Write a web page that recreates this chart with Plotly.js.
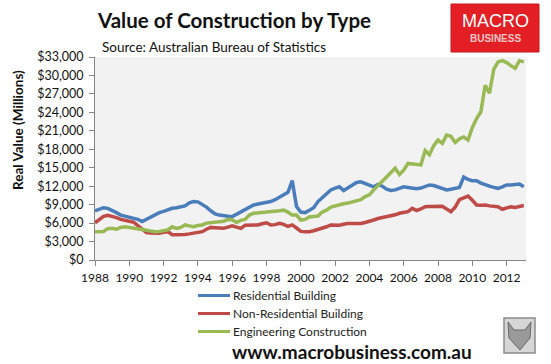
<!DOCTYPE html>
<html>
<head>
<meta charset="utf-8">
<script src="https://cdn.plot.ly/plotly-3.0.1.min.js"></script>
<style>html,body{margin:0;padding:0;background:#fff;}#chart{width:551px;height:364px;}</style>
</head>
<body>
<div id="chart"></div>
<script>
// Quarterly periods (decimal years)
var quarters = [
1988.00,1988.25,1988.50,1988.75,1989.00,1989.25,1989.50,1989.75,
1990.00,1990.25,1990.50,1990.75,1991.00,1991.25,1991.50,1991.75,
1992.00,1992.25,1992.50,1992.75,1993.00,1993.25,1993.50,1993.75,
1994.00,1994.25,1994.50,1994.75,1995.00,1995.25,1995.50,1995.75,
1996.00,1996.25,1996.50,1996.75,1997.00,1997.25,1997.50,1997.75,
1998.00,1998.25,1998.50,1998.75,1999.00,1999.25,1999.50,1999.75,
2000.00,2000.25,2000.50,2000.75,2001.00,2001.25,2001.50,2001.75,
2002.00,2002.25,2002.50,2002.75,2003.00,2003.25,2003.50,2003.75,
2004.00,2004.25,2004.50,2004.75,2005.00,2005.25,2005.50,2005.75,
2006.00,2006.25,2006.50,2006.75,2007.00,2007.25,2007.50,2007.75,
2008.00,2008.25,2008.50,2008.75,2009.00,2009.25,2009.50,2009.75,
2010.00,2010.25,2010.50,2010.75,2011.00,2011.25,2011.50,2011.75,
2012.00,2012.25,2012.50,2012.75,2013.00];

var residential = [
8000,8300,8500,8400,8100,7700,7300,7100,
6900,6800,6600,6250,6600,7000,7400,7700,
7900,8200,8400,8500,8700,8800,9300,9500,
9450,9100,8600,8000,7500,7300,7150,7100,
7050,7400,7800,8200,8600,8950,9100,9250,
9350,9500,9800,10200,10600,11000,12900,8700,
7800,7700,8100,8500,9500,10200,10850,11400,
11700,11900,11300,11700,12200,12600,12700,12400,
12100,11900,12300,12000,11500,11300,11400,11650,
11900,11800,11650,11600,11700,12000,12200,12100,
11900,11600,11400,11500,11700,11800,13500,13100,
12900,12900,12500,12200,12000,11800,11650,11900,
12200,12200,12250,12350,11900];

var nonResidential = [
6050,6600,7100,7250,7100,6900,6600,6450,
6300,6150,5600,5000,4450,4400,4350,4350,
4500,4600,4100,4100,4100,4150,4250,4400,
4500,4600,5000,5300,5250,5150,5150,5350,
5550,5350,5150,5650,5700,5650,5700,5900,
6050,5700,5750,5950,5800,5450,5700,5200,
4650,4600,4600,4750,4950,5150,5400,5700,
5700,5650,5800,5950,5950,5950,5950,6100,
6250,6500,6750,6900,7000,7100,7350,7600,
7700,7850,8400,8050,8300,8650,8700,8700,
8750,8750,8300,7850,8600,9800,10100,10400,
9700,8950,8900,8950,8800,8700,8650,8250,
8450,8650,8550,8750,8850];

var engineering = [
4600,4600,4650,5100,5150,5000,5300,5400,
5300,5200,5150,5000,4850,4700,4600,4650,
4800,4900,5400,5150,5300,5700,5550,5420,
5600,5700,6000,6100,6200,6250,6300,6600,
6550,6100,6450,6600,7300,7600,7650,7800,
7850,7900,7950,8000,8100,7800,7300,7300,
6500,6600,7000,7050,7150,7800,8100,8600,
8800,9050,9150,9250,9400,9600,9800,10300,
10600,11400,12200,12800,13500,14200,14900,13900,
14600,15700,15600,15500,15450,17800,17100,18600,
19500,18950,20300,20100,19100,19700,20000,19500,
21500,23000,24100,28400,27100,31000,32200,32400,
32100,31600,31150,32400,32200];

var seriesNames = ['Residential Building','Non-Residential Building','Engineering Construction'];
var xTickYears = [1988,1990,1992,1994,1996,1998,2000,2002,2004,2006,2008,2010,2012];
var yTickValues = [0,3000,6000,9000,12000,15000,18000,21000,24000,27000,30000,33000];

var colors = ['#4a7ebb','#be4b48','#98b954'];
var FONT = 'Lato, "Liberation Sans", sans-serif';

// plot-area pixel geometry helpers (layout only)
var L = 95, R = 526, T = 57, B = 260;
function px(x){ return (x - L) / (R - L); }
function py(y){ return (B - y) / (B - T); }

var traces = [residential, nonResidential, engineering].map(function(vals, i){
  return {
    x: quarters, y: vals, type: 'scatter', mode: 'lines',
    name: seriesNames[i],
    line: {color: colors[i], width: 3.5},
    hoverinfo: 'skip', showlegend: false
  };
});

// legend (drawn as key swatches + labels below the plot)
var legendRowsY = [295.5, 313.5, 331.5];
var legendShapes = [], legendNotes = [];
seriesNames.forEach(function(name, i){
  legendShapes.push({type: 'line', xref: 'paper', yref: 'paper',
    x0: px(198), x1: px(230), y0: py(legendRowsY[i]), y1: py(legendRowsY[i]),
    line: {color: colors[i], width: 3}});
  legendNotes.push({text: name, xref: 'paper', yref: 'paper',
    x: px(231), y: py(legendRowsY[i]), xanchor: 'left', yanchor: 'middle', showarrow: false,
    font: {family: FONT, size: 12, color: '#222'}});
});

var layout = {
  width: 551, height: 364,
  margin: {l: L, r: 551 - R, t: T, b: 364 - B, pad: 0},
  paper_bgcolor: '#ffffff',
  plot_bgcolor: '#f2f2f2',
  font: {family: FONT, size: 12, color: '#222'},
  showlegend: false,
  xaxis: {
    range: [1988, 2013.13], tickmode: 'array',
    tickvals: xTickYears, ticktext: xTickYears.map(String),
    ticks: 'outside', ticklen: 5, tickcolor: '#868686',
    showline: true, linecolor: '#868686', linewidth: 1,
    showgrid: false, zeroline: false, ticklabelstandoff: 2,
    tickfont: {family: FONT, size: 12, color: '#111'}
  },
  yaxis: {
    range: [0, 33000], tickmode: 'array', tickvals: yTickValues,
    ticktext: yTickValues.map(function(v){ return '$' + v.toLocaleString('en-US'); }),
    ticks: 'outside', ticklen: 5, tickcolor: '#868686',
    showline: true, linecolor: '#868686', linewidth: 1,
    showgrid: false, zeroline: false, ticklabelstandoff: 3,
    tickfont: {family: FONT, size: 12.5, color: '#111'}
  },
  title: {
    text: '<b>Value of Construction by Type</b>',
    font: {family: FONT, size: 20.5, color: '#111'},
    xref: 'paper', yref: 'container',
    x: px(98), xanchor: 'left', y: 1 - 21/364, yanchor: 'middle'
  },
  shapes: [
    {type: 'rect', xref: 'paper', yref: 'paper', x0: px(451), x1: px(539), y0: py(52), y1: py(4),
     fillcolor: '#e31e24', line: {color: '#c8171c', width: 1}, layer: 'above'},
    {type: 'rect', xref: 'paper', yref: 'paper', x0: px(504), x1: px(535), y0: py(353), y1: py(318),
     fillcolor: '#d6d6d6', line: {color: '#8c8c8c', width: 1.5}},
    {type: 'path', xref: 'paper', yref: 'paper',
     path: 'M ' + px(508) + ' ' + py(322) + ' L ' + px(514) + ' ' + py(330) + ' L ' + px(525) + ' ' + py(330) +
           ' L ' + px(531) + ' ' + py(322) + ' L ' + px(530) + ' ' + py(338) + ' L ' + px(520) + ' ' + py(350) +
           ' L ' + px(509) + ' ' + py(338) + ' Z',
     fillcolor: '#9a9a9a', line: {color: '#666', width: 1}}
  ].concat(legendShapes),
  annotations: [
    {text: 'Source: Australian Bureau of Statistics', xref: 'paper', yref: 'paper',
     x: px(100), y: py(47), xanchor: 'left', yanchor: 'middle', showarrow: false,
     font: {family: FONT, size: 13.5, color: '#111'}},
    {text: '<b>Real Value (Millions)</b>', xref: 'paper', yref: 'paper', textangle: -90,
     x: px(18), y: py(130), xanchor: 'center', yanchor: 'middle', showarrow: false,
     font: {family: FONT, size: 13.5, color: '#111'}},
    {text: 'MACRO', xref: 'paper', yref: 'paper', x: px(495), y: py(21), xanchor: 'center', yanchor: 'middle',
     showarrow: false, font: {family: '"Liberation Sans", Arial, sans-serif', size: 18, color: '#ffffff'}},
    {text: '<b>BUSINESS</b>', xref: 'paper', yref: 'paper', x: px(495), y: py(38), xanchor: 'center', yanchor: 'middle',
     showarrow: false, font: {family: '"Liberation Sans", Arial, sans-serif', size: 10, color: '#f7c6c6'}},
    {text: '<b>www.macrobusiness.com.au</b>', xref: 'paper', yref: 'paper', x: px(352), y: py(351.5),
     xanchor: 'center', yanchor: 'middle', showarrow: false,
     font: {family: FONT, size: 19, color: '#111'}}
  ].concat(legendNotes)
};

Plotly.newPlot('chart', traces, layout, {displayModeBar: false, staticPlot: true});
</script>
</body>
</html>
